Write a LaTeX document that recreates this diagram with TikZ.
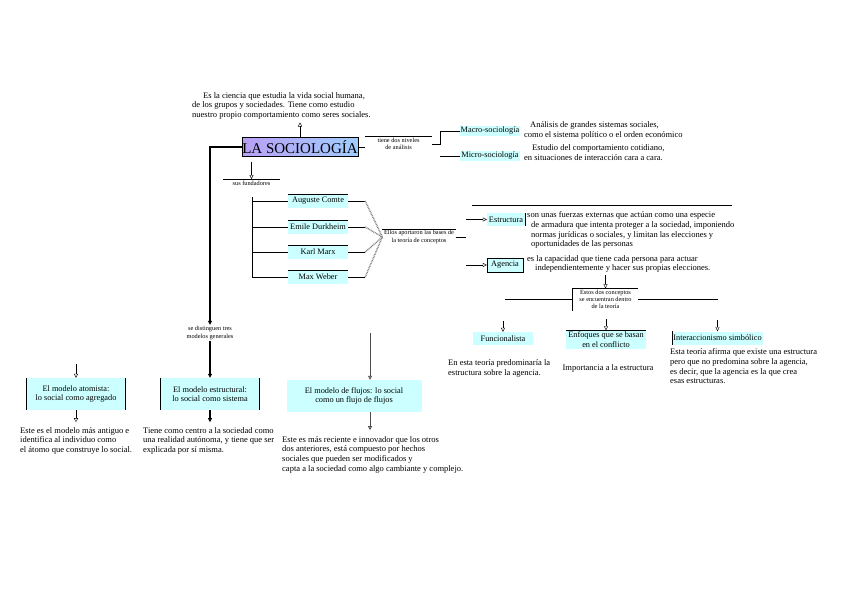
\documentclass[tikz,border=0pt]{standalone}
\usepackage{fontspec}
\setmainfont{Liberation Serif}
\usetikzlibrary{arrows.meta}
\definecolor{boxcyan}{RGB}{204,255,255}
\definecolor{titlev}{RGB}{185,160,245}
\definecolor{titleb}{RGB}{160,205,255}
\tikzset{
  txt/.style={font=\fontsize{8.5}{9.7}\selectfont, align=left, inner sep=0pt, anchor=north west},
  lab/.style={font=\fontsize{6.3}{7.2}\selectfont, align=center, inner sep=1.5pt},
  cbox/.style={fill=boxcyan, font=\fontsize{8.3}{9.6}\selectfont, align=center, inner sep=1pt},
  topbar/.style={append after command={(\tikzlastnode.north west) edge[draw=black] (\tikzlastnode.north east)}},
  leftbar/.style={append after command={(\tikzlastnode.north west) edge[draw=black,thick] (\tikzlastnode.south west)}},
  rightbar/.style={append after command={(\tikzlastnode.north east) edge[draw=black,thick] (\tikzlastnode.south east)}},
  arr/.style={-{Triangle[open,length=4pt,width=4pt]}},
  rope/.style={draw=gray, line width=1.5pt, dash pattern=on 0.8pt off 0.8pt},
}
\begin{document}
\begin{tikzpicture}[x=1pt,y=-1pt]
\useasboundingbox (0,0) rectangle (848,599);
% titulo
\node[draw, left color=titlev, right color=titleb, minimum width=116pt, minimum height=19pt, inner sep=0pt, font=\fontsize{15}{15}\selectfont] (soc) at (300,147) {LA SOCIOLOGÍA};
\node[txt] (desc) at (192,92) {\hspace*{11pt}Es la ciencia que estudia la vida social humana,\\de los grupos y sociedades. Tiene como estudio\\nuestro propio comportamiento como seres sociales.};
\draw[arr, shorten >=3pt] (soc.north) -- (soc.north |- desc.south);

% niveles
\node[lab, topbar, minimum width=67pt] (niv) at (398.5,144) {tiene dos niveles\\de análisis};
\draw (soc.east) -- (soc.east -| niv.west);
\node[cbox] (mac) at (490,131) {Macro-sociología};
\node[cbox] (mic) at (490,156) {Micro-sociología};
\draw[thick] (niv.east) -- ++(8,0) |- (mac.west);
\draw[thick] (mic.west) -- ++(-20,0);
\node[txt] (macd) at (524,121.5) {\hspace*{6pt}Análisis de grandes sistemas sociales,\\como el sistema político o el orden económico};
\node[txt] (micd) at (524,144.5) {\hspace*{8pt}Estudio del comportamiento cotidiano,\\en situaciones de interacción cara a cara.};

% fundadores
\node[lab, topbar, minimum width=57pt] (fund) at (251.5,183) {sus fundadores};
\draw[arr, shorten <=5pt] (soc.south -| fund.north) -- (fund.north);
\foreach \n/\y/\t in {comte/201/Auguste Comte, durk/227/Emile Durkheim, marx/252/Karl Marx, weber/277/Max Weber}{
  \node[cbox, topbar, minimum width=60pt, minimum height=13pt] (\n) at (318,\y) {\t};
  \draw (\n.west) -- ++(-36,0);
}
\draw ([xshift=-36pt,yshift=4pt]comte.west) -- ([xshift=-36pt]weber.west);
\node[lab, topbar, minimum width=68pt] (aport) at (419,237) {Ellos aportaron las bases de\\la teoría de conceptos};
\foreach \n in {comte,durk,marx,weber}{
  \draw (\n.east) -- ++(17,0) coordinate (r\n);
  \draw[rope] (r\n) -- (aport.west);
}

% estructura y agencia
\node[cbox, rightbar, minimum width=38pt, minimum height=13pt] (est) at (506,219.5) {Estructura};
\node[cbox, draw, minimum width=36pt, minimum height=14pt] (age) at (505,265) {Agencia};
\draw (aport.east) -- ++(10,0) coordinate (bk);
\draw[arr] (bk |- est.west) -- (est.west);
\draw[arr] (bk |- age.west) -- (age.west);
\draw (472,205) -- (732,205);
\node[txt] (estd) at (527,211.5) {son unas fuerzas externas que actúan como una especie\\\hspace*{4pt}de armadura que intenta proteger a la sociedad, imponiendo\\\hspace*{4pt}normas jurídicas o sociales, y limitan las elecciones y\\\hspace*{4pt}oportunidades de las personas};
\node[txt] (aged) at (527,255) {es la capacidad que tiene cada persona para actuar\\\hspace*{8pt}independientemente y hacer sus propias elecciones.};

% teorias
\node[lab, topbar, leftbar, minimum width=65pt] (conc) at (605.5,299.5) {Estos dos conceptos\\se encuentran dentro\\de la teoría};
\draw[arr, shorten <=2pt] (conc.north |- aged.south) -- (conc.north);
\draw (conc.west) -- ++(-68,0);
\draw (conc.east) -- ++(80,0);
\node[cbox, minimum width=60pt, minimum height=13pt] (fun) at (503,338.5) {Funcionalista};
\node[cbox, topbar, minimum width=80pt, minimum height=18pt] (conf) at (606,339.5) {Enfoques que se basan\\en el conflicto};
\node[cbox, leftbar, minimum width=90pt, minimum height=13pt] (inter) at (717.5,338) {Interaccionismo simbólico};
\foreach \n in {fun,conf,inter}
  \draw[arr] ([yshift=11pt]\n.north) -- (\n.north);
\node[txt] (funcd) at (448,359.5) {En esta teoría predominaría la\\estructura sobre la agencia.};
\node[txt, anchor=center] (confd) at (608,368) {Importancia a la estructura};
\node[txt] (interd) at (670,348.5) {Esta teoría afirma que existe una estructura\\pero que no predomina sobre la agencia,\\es decir, que la agencia es la que crea\\esas estructuras.};

% modelos
\node[lab] (tres) at (210,333) {se distinguen tres\\modelos generales};
\draw[line width=1.6pt, arr] (soc.west) -| (tres.north);
\node[cbox, leftbar, rightbar, minimum width=98pt, minimum height=32pt] (atom) at (76,394) {El modelo atomista:\\lo social como agregado};
\node[cbox, leftbar, rightbar, minimum width=98pt, minimum height=32pt] (estr) at (210,394) {El modelo estructural:\\lo social como sistema};
\node[cbox, minimum width=135pt, minimum height=32pt] (flujo) at (354,396) {El modelo de flujos: lo social\\como un flujo de flujos};
\draw[line width=1.6pt, arr] (tres.south) -- (estr.north);
\draw[arr] ([yshift=14pt]atom.north) -- (atom.north);
\draw[arr] (atom.south) -- ++(0,12);
\draw[line width=1.6pt, arr] (estr.south) -- ++(0,12);
\coordinate (f0) at (370,333);
\draw[thick, gray!60!black, arr] (f0) -- (f0 |- flujo.north);
\draw[thick, gray!60!black, arr] (f0 |- flujo.south) -- ++(0,18);
\node[txt] (atomd) at (20,427) {Este es el modelo más antiguo e\\identifica al individuo como\\el átomo que construye lo social.};
\node[txt] (estrd) at (143,427) {Tiene como centro a la sociedad como\\una realidad autónoma, y tiene que ser\\explicada por sí misma.};
\node[txt] (flujod) at (282,436) {Este es más reciente e innovador que los otros\\dos anteriores, está compuesto por hechos\\sociales que pueden ser modificados y\\capta a la sociedad como algo cambiante y complejo.};
\end{tikzpicture}
\end{document}
